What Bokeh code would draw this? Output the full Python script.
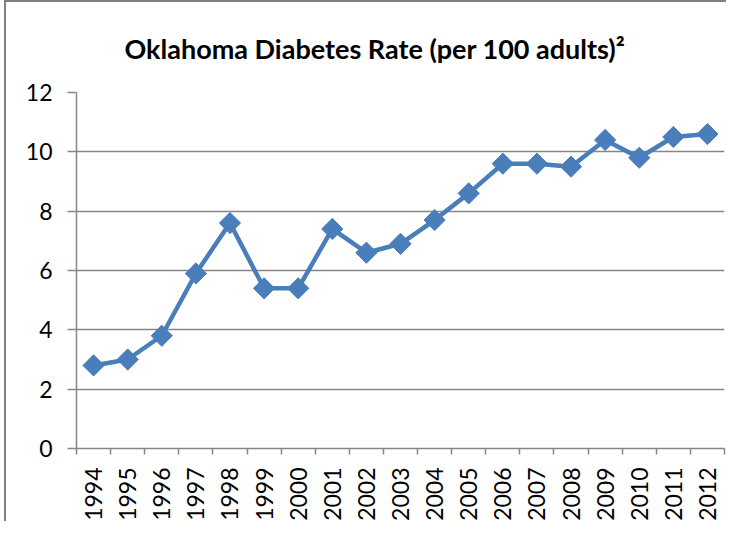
import math
from bokeh.plotting import figure
from bokeh.models import FixedTicker, Range1d
from bokeh.embed import file_html
from bokeh.resources import INLINE

years = [1994, 1995, 1996, 1997, 1998, 1999, 2000, 2001, 2002, 2003,
         2004, 2005, 2006, 2007, 2008, 2009, 2010, 2011, 2012]
rates = [2.8, 3.0, 3.8, 5.9, 7.6, 5.4, 5.4, 7.4, 6.6, 6.9,
         7.7, 8.6, 9.6, 9.6, 9.5, 10.4, 9.8, 10.5, 10.6]
y_ticks = [0, 2, 4, 6, 8, 10, 12]
title_text = "Oklahoma Diabetes Rate (per 100 adults)²"

W, H = 722, 521
p = figure(width=W, height=H, output_backend="svg", toolbar_location=None,
           x_range=Range1d(years[0] - 0.5, years[-1] + 0.5),
           y_range=Range1d(0, 12),
           min_border_left=70, min_border_right=4,
           min_border_top=90, min_border_bottom=71)
p.outline_line_color = None
p.background_fill_color = "white"
p.border_fill_color = "white"
p.styles = {"border-left": "2px solid #808080", "border-top": "2px solid #808080",
            "margin-left": "4px"}

# title
p.title.text = title_text
p.title.align = "left"
p.title.offset = 48
p.title.standoff = 55
p.title.text_font = "Lato"
p.title.text_font_style = "bold"
p.title.text_font_size = "27px"
p.title.text_color = "black"

# line + markers
line_color = "#4a7ebb"
p.line(years, rates, line_width=4.5, color=line_color)
p.scatter(years, rates, marker="square", size=15, angle=math.pi / 4,
          color=line_color)

# y axis
p.yaxis.ticker = FixedTicker(ticks=y_ticks)
p.yaxis.axis_line_color = "#868686"
p.yaxis.axis_line_width = 1.5
p.yaxis.major_tick_line_color = "#868686"
p.yaxis.major_tick_line_width = 1.5
p.yaxis.major_tick_out = 9
p.yaxis.major_tick_in = 0
p.yaxis.minor_tick_line_color = None
p.yaxis.major_label_standoff = 15
p.yaxis.major_label_text_font = "Lato"
p.yaxis.major_label_text_font_size = "23px"
p.yaxis.major_label_text_color = "black"

# x axis: labels at category centres, tick marks at boundaries
boundaries = [y - 0.5 for y in years] + [years[-1] + 0.5]
p.xaxis.ticker = FixedTicker(ticks=years, minor_ticks=boundaries)
p.xaxis.axis_line_color = "#868686"
p.xaxis.axis_line_width = 1.5
p.xaxis.major_tick_line_color = None
p.xaxis.major_tick_out = 0
p.xaxis.major_tick_in = 0
p.xaxis.minor_tick_line_color = "#868686"
p.xaxis.minor_tick_line_width = 1.5
p.xaxis.minor_tick_out = 6
p.xaxis.minor_tick_in = 0
p.xaxis.major_label_orientation = math.pi / 2
p.xaxis.major_label_standoff = 13
p.xaxis.major_label_text_font = "Lato"
p.xaxis.major_label_text_font_size = "23px"
p.xaxis.major_label_text_color = "black"

# grid
p.xgrid.grid_line_color = None
p.ygrid.ticker = FixedTicker(ticks=y_ticks)
p.ygrid.grid_line_color = "#868686"
p.ygrid.grid_line_width = 1.5

open("out.html", "w").write(file_html(p, INLINE))
